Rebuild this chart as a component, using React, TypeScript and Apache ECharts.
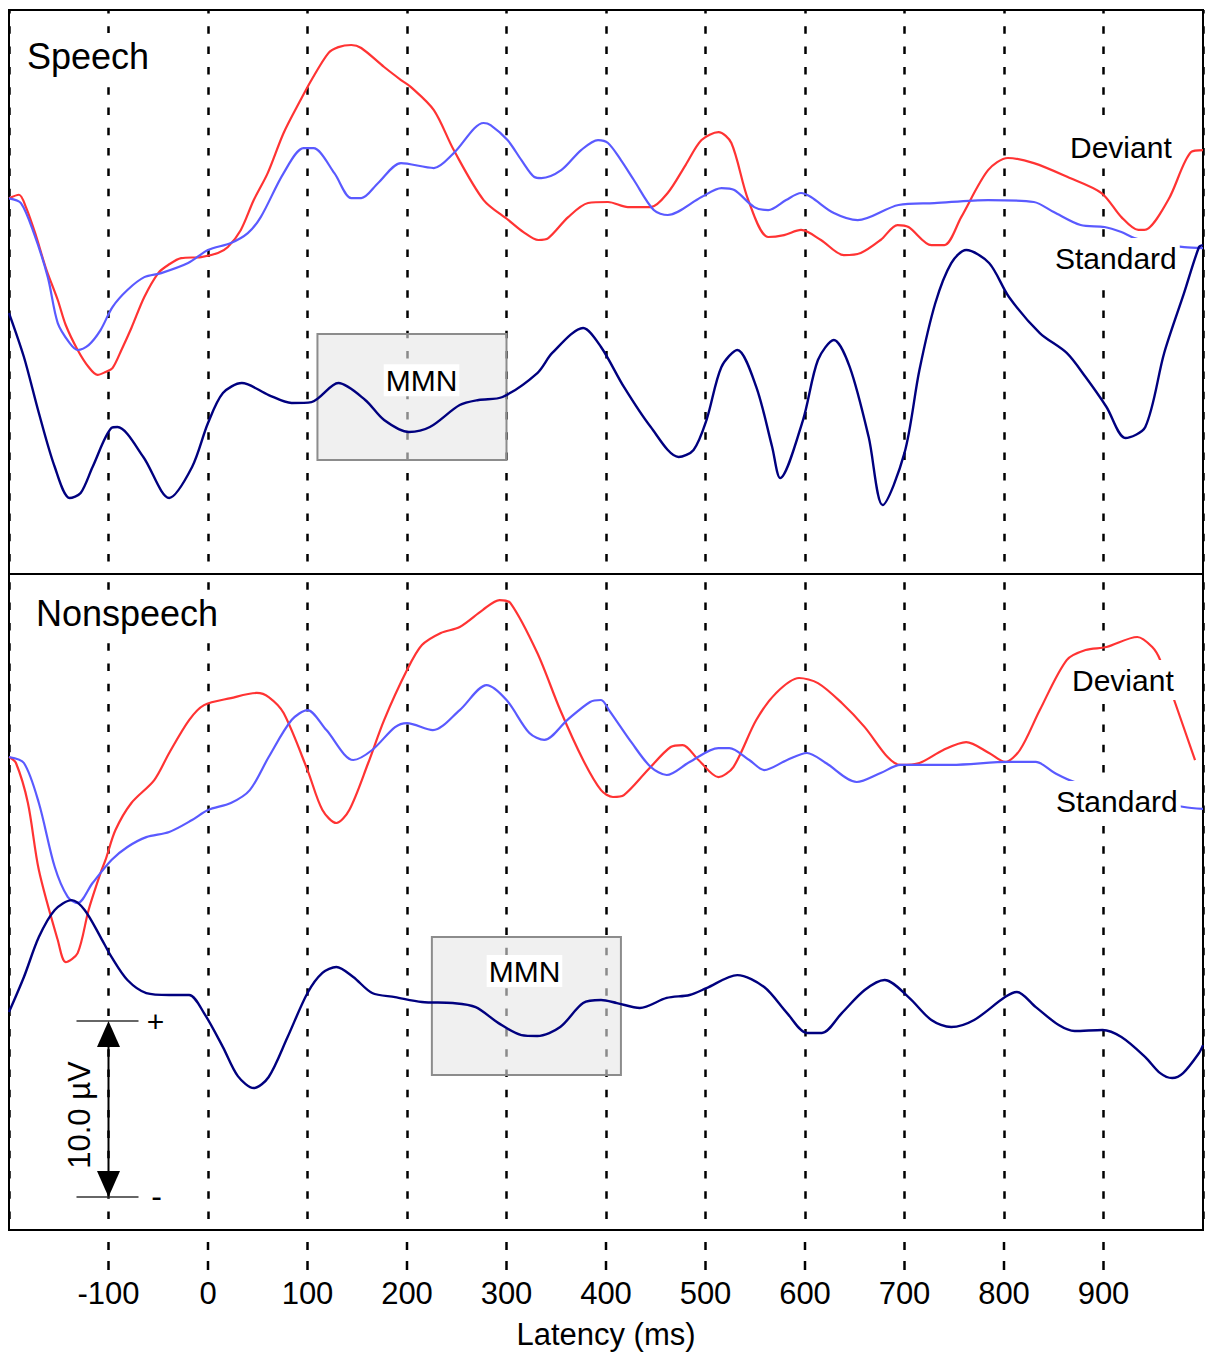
import React, { useEffect, useRef } from "react";
import * as echarts from "echarts";

// Latency (ms) vs amplitude (µV) pairs for each grand-average waveform.
const speechDeviant: number[][] = [
  [-200, 0.1], [-190, 0.3], [-183, -0.4], [-173, -2.0], [-163, -3.86], [-151, -5.68], [-143, -7.1],
  [-131, -8.52], [-120, -9.49], [-111, -9.94], [-103, -9.77], [-96, -9.55], [-87, -8.52], [-77, -7.27],
  [-64, -5.51], [-50, -4.15], [-40, -3.69], [-27, -3.3], [-7, -3.24], [10, -3.01], [20, -2.67], [33, -1.7],
  [46, 0], [60, 1.53], [76, 3.81], [93, 5.68], [104, 6.82], [121, 8.35], [131, 8.69], [144, 8.81],
  [154, 8.64], [177, 7.56], [194, 6.82], [204, 6.42], [227, 5.11], [247, 2.84], [277, 0], [302, -1.14],
  [317, -1.82], [332, -2.27], [342, -2.16], [362, -0.97], [382, -0.17], [402, -0.11], [422, -0.4],
  [445, -0.4], [462, 0.4], [480, 1.99], [496, 3.41], [513, 3.86], [526, 3.24], [543, 0], [563, -2.1],
  [579, -1.99], [596, -1.7], [616, -2.27], [639, -3.13], [656, -3.01], [676, -2.27], [693, -1.42],
  [704, -1.53], [727, -2.56], [740, -2.56], [757, -0.97], [784, 1.7], [804, 2.39], [830, 2.1],
  [864, 1.31], [898, 0.4], [918, -0.97], [935, -1.7], [941, -1.7], [965, 0], [988, 2.73], [1000, 2.84],
];

const speechStandard: number[][] = [
  [-200, 0.1], [-188, -0.17], [-175, -1.88], [-161, -4.38], [-151, -6.99], [-139, -8.13], [-131, -8.52],
  [-120, -8.24], [-108, -7.39], [-96, -6.08], [-81, -5.11], [-64, -4.38], [-47, -4.15], [-20, -3.58],
  [0, -2.84], [23, -2.44], [40, -1.88], [53, -0.97], [76, 1.53], [96, 2.95], [106, 2.95], [127, 1.53],
  [144, 0.11], [154, 0.11], [171, 0.97], [194, 2.1], [227, 1.82], [247, 2.67], [277, 4.38], [284, 4.26],
  [301, 3.41], [315, 2.27], [328, 1.31], [335, 1.25], [355, 1.7], [375, 2.84], [392, 3.41], [402, 3.24],
  [415, 2.27], [428, 1.14], [448, -0.57], [462, -0.85], [496, 0.17], [516, 0.68], [529, 0.57],
  [549, -0.4], [563, -0.57], [581, 0], [596, 0.4], [606, 0.17], [629, -0.74], [653, -1.14], [694, -0.28],
  [730, -0.17], [784, 0], [830, -0.11], [850, -0.68], [877, -1.42], [901, -1.53], [918, -1.82],
  [931, -2.16], [958, -2.5], [981, -2.67], [1000, -2.73],
];

const speechMmn: number[][] = [
  [-200, 0], [-185, -2.5], [-170, -5.68], [-154, -8.75], [-139, -10.51], [-128, -10.23], [-116, -8.75],
  [-97, -6.53], [-91, -6.48], [-65, -8.18], [-39, -10.51], [-16, -8.75], [0, -6.25], [15, -4.55],
  [34, -3.98], [61, -4.66], [84, -5.11], [104, -5.06], [131, -3.98], [158, -4.94], [177, -6.08],
  [202, -6.76], [223, -6.48], [253, -5.23], [272, -4.94], [296, -4.77], [331, -3.41], [346, -2.27],
  [377, -0.85], [395, -1.93], [418, -4.2], [445, -6.48], [473, -8.18], [488, -7.78], [501, -6.08],
  [516, -3.07], [532, -2.1], [551, -4.2], [567, -7.61], [575, -9.38], [598, -6.08], [613, -2.67],
  [629, -1.53], [645, -3.07], [664, -7.05], [678, -10.91], [700, -7.95], [715, -3.24], [731, 0.57],
  [747, 2.84], [762, 3.58], [785, 2.84], [805, 0.91], [836, -1.14], [863, -2.27], [882, -3.64],
  [903, -5.34], [922, -7.1], [942, -6.48], [961, -2.27], [981, 1.14], [996, 3.75], [1000, 3.86],
];

const nonspeechDeviant: number[][] = [
  [-200, 0], [-193, -0.34], [-181, -2.61], [-170, -6.42], [-151, -10.4], [-143, -11.65], [-131, -11.14],
  [-120, -8.69], [-108, -6.59], [-103, -5.85], [-93, -4.15], [-77, -2.61], [-54, -1.31], [-39, 0.23],
  [-19, 2.1], [-4, 2.95], [23, 3.35], [49, 3.64], [61, 3.41], [76, 2.5], [100, -0.74], [115, -3.01],
  [129, -3.75], [142, -3.01], [161, -0.34], [177, 2.1], [200, 4.94], [215, 6.36], [234, 7.05],
  [253, 7.39], [276, 8.35], [293, 8.92], [304, 8.75], [331, 5.91], [354, 2.67], [377, -0.17],
  [395, -1.88], [407, -2.27], [418, -2.16], [442, -0.74], [465, 0.57], [477, 0.68], [493, -0.17],
  [513, -1.14], [528, -0.57], [551, 2.1], [571, 3.64], [594, 4.49], [613, 4.2], [637, 3.07], [660, 1.7],
  [683, 0], [696, -0.45], [715, -0.34], [739, 0.4], [762, 0.85], [785, 0.23], [801, -0.28], [816, 0.4],
  [836, 2.67], [863, 5.51], [882, 6.08], [903, 6.25], [934, 6.82], [949, 6.25], [957, 5.51],
  [971, 3.24], [992, -0.17],
];

const nonspeechStandard: number[][] = [
  [-200, 0], [-185, -0.34], [-170, -2.61], [-154, -6.25], [-141, -7.95], [-131, -8.3], [-116, -7.16],
  [-97, -5.85], [-81, -5.11], [-62, -4.55], [-39, -4.26], [-16, -3.58], [0, -3.01], [23, -2.61],
  [42, -1.88], [61, 0], [84, 2.1], [100, 2.67], [119, 1.53], [146, -0.17], [165, 0.4], [188, 1.7],
  [200, 1.93], [226, 1.53], [253, 2.67], [280, 4.09], [300, 3.24], [323, 1.36], [338, 0.97], [361, 2.1],
  [384, 3.13], [395, 3.24], [403, 2.67], [426, 0.8], [445, -0.57], [461, -1.02], [484, -0.28],
  [513, 0.51], [524, 0.51], [544, -0.17], [559, -0.74], [582, -0.17], [602, 0.23], [621, -0.34],
  [652, -1.42], [676, -0.91], [696, -0.45], [747, -0.45], [805, -0.28], [832, -0.28], [851, -0.91],
  [871, -1.42], [928, -2.16], [981, -2.84], [1000, -2.95],
];

const nonspeechMmn: number[][] = [
  [-200, 0], [-185, 1.99], [-170, 4.26], [-154, 5.8], [-137, 6.36], [-124, 5.8], [-108, 4.26],
  [-97, 3.13], [-81, 1.82], [-62, 1.08], [-39, 0.97], [-19, 0.97], [-4, -0.06], [15, -1.99],
  [30, -3.64], [46, -4.32], [61, -3.69], [80, -1.42], [100, 1.08], [115, 2.22], [129, 2.56],
  [146, 1.99], [165, 1.08], [188, 0.85], [215, 0.57], [246, 0.51], [269, 0.28], [292, -0.63],
  [315, -1.31], [331, -1.36], [354, -0.85], [377, 0.51], [395, 0.68], [411, 0.51], [434, 0.23],
  [461, 0.8], [484, 0.97], [501, 1.36], [532, 2.1], [559, 1.42], [582, -0.06], [602, -1.19],
  [617, -1.19], [637, -0.06], [660, 1.25], [680, 1.82], [704, 0.85], [727, -0.45], [747, -0.85],
  [770, -0.45], [801, 0.85], [813, 1.14], [832, 0.28], [855, -0.74], [871, -1.08], [899, -1.02],
  [918, -1.42], [942, -2.56], [957, -3.47], [969, -3.75], [980, -3.47], [996, -2.33], [1000, -1.88],
];

// Difference waves are drawn below the condition waveforms (µV shift).
const SPEECH_MMN_OFFSET = -6.42;
const NONSPEECH_MMN_OFFSET = -14.49;

// MMN analysis windows: [start ms, end ms], shaded box extent in panel µV.
const speechMmnWindow = [110, 300];
const speechMmnBand = [-7.61, -14.77];
const nonspeechMmnWindow = [225, 415];
const nonspeechMmnBand = [-10.23, -18.07];

const latencyTicks = [-100, 0, 100, 200, 300, 400, 500, 600, 700, 800, 900];

// Calibration bar: latency, upper µV, lower µV
const scaleBar = [[-100, -15, -25]];

// Layout of the two stacked panels
const X_MIN = -200;
const X_MAX = 1000;
const PLOT_LEFT = 9;
const PLOT_WIDTH = 1194;
const UPPER_TOP = 10;
const UPPER_HEIGHT = 564;
const LOWER_TOP = 574;
const LOWER_HEIGHT = 656;

const FONT = '"Liberation Sans", Arial, Helvetica, sans-serif';
const RED = "#ff3333";
const BLUE = "#5a5aff";
const NAVY = "#00007f";
const DASH = [7.5, 12.8];

const shift = (data: number[][], off: number) => data.map(([t, v]) => [t, +(v + off).toFixed(2)]);

const dashed = (offset: number) => ({
  show: true,
  lineStyle: { color: "#000", width: 2.5, type: DASH, dashOffset: offset },
});

const wave = (name: string, data: number[][], color: string, idx: number, width = 2.2) => ({
  name,
  type: "line",
  xAxisIndex: idx,
  yAxisIndex: idx,
  data,
  showSymbol: false,
  symbol: "none",
  smooth: 0.3,
  lineStyle: { color, width },
  itemStyle: { color },
  silent: true,
});

const mmnArea = (win: number[], band: number[], labelPos: string[]) => ({
  silent: true,
  itemStyle: { color: "rgba(230,230,230,0.6)", borderColor: "#8c8c8c", borderWidth: 2, opacity: 1 },
  label: {
    show: true,
    formatter: "MMN",
    position: labelPos,
    align: "center",
    verticalAlign: "middle",
    fontSize: 30,
    fontFamily: FONT,
    color: "#000",
    backgroundColor: "#fff",
    padding: [1, 2],
  },
  data: [[{ xAxis: win[0], yAxis: band[0] }, { xAxis: win[1], yAxis: band[1] }]],
});

const label = (text: string, x: number, y: number, size: number) => ({
  type: "text",
  x,
  y,
  z: 100,
  style: {
    text,
    font: `${size}px ${FONT}`,
    fill: "#000",
    align: "left",
    verticalAlign: "middle",
    backgroundColor: "#fff",
    padding: [5, 3],
  },
});

// Latency guides carried on below the frame: two short dashes under each tick,
// drawn as thin filled rectangles.
function guideTails() {
  const out: any[] = [];
  const bottom = LOWER_TOP + LOWER_HEIGHT;
  latencyTicks.forEach((t) => {
    const x = PLOT_LEFT + ((t - X_MIN) / (X_MAX - X_MIN)) * PLOT_WIDTH;
    [[12, 20], [31, 40]].forEach(([a, b]) => {
      out.push({
        type: "rect",
        z: 100,
        shape: { x: x - 1.25, y: bottom + a, width: 2.5, height: b - a },
        style: { fill: "#000" },
      });
    });
  });
  return out;
}

function renderScaleBar(params: any, api: any) {
  const t = api.value(0);
  const top = api.coord([t, api.value(1)]);
  const bot = api.coord([t, api.value(2)]);
  const x = top[0];
  const span = Math.abs(api.value(1) - api.value(2));
  const head = 26;
  const half = 11.5;
  return {
    type: "group",
    children: [
      { type: "line", shape: { x1: x - 32, y1: top[1], x2: x + 30, y2: top[1] }, style: { stroke: "#333", lineWidth: 1.5 } },
      { type: "line", shape: { x1: x - 32, y1: bot[1], x2: x + 30, y2: bot[1] }, style: { stroke: "#333", lineWidth: 1.5 } },
      { type: "line", shape: { x1: x, y1: top[1] + head - 2, x2: x, y2: bot[1] - head + 2 }, style: { stroke: "#000", lineWidth: 2 } },
      { type: "polygon", shape: { points: [[x, top[1]], [x - half, top[1] + head], [x + half, top[1] + head]] }, style: { fill: "#000" } },
      { type: "polygon", shape: { points: [[x, bot[1]], [x - half, bot[1] - head], [x + half, bot[1] - head]] }, style: { fill: "#000" } },
      { type: "text", x: x + 47, y: top[1], style: { text: "+", font: `30px ${FONT}`, fill: "#000", align: "center", verticalAlign: "middle" } },
      { type: "text", x: x + 48, y: bot[1] - 1, style: { text: "-", font: `32px ${FONT}`, fill: "#000", align: "center", verticalAlign: "middle" } },
      {
        type: "text",
        x: x - 29,
        y: (top[1] + bot[1]) / 2 + 6,
        rotation: Math.PI / 2,
        style: { text: `${span.toFixed(1)} µV`, font: `31px ${FONT}`, fill: "#000", align: "center", verticalAlign: "middle" },
      },
    ],
  };
}

function buildOption() {
  return {
    animation: false,
    backgroundColor: "#fff",
    grid: [
      { left: PLOT_LEFT, top: UPPER_TOP, width: PLOT_WIDTH, height: UPPER_HEIGHT, show: true, borderColor: "#000", borderWidth: 2, backgroundColor: "transparent" },
      { left: PLOT_LEFT, top: LOWER_TOP, width: PLOT_WIDTH, height: LOWER_HEIGHT, show: true, borderColor: "#000", borderWidth: 2, backgroundColor: "transparent" },
    ],
    xAxis: [
      {
        gridIndex: 0,
        type: "value",
        min: X_MIN,
        max: X_MAX,
        interval: 100,
        axisLine: { show: false, onZero: false },
        axisTick: { show: false },
        axisLabel: { show: false },
        splitLine: dashed(3.5),
      },
      {
        gridIndex: 1,
        type: "value",
        min: X_MIN,
        max: X_MAX,
        interval: 100,
        axisLine: { show: false, onZero: false },
        axisTick: { show: false },
        axisLabel: {
          show: true,
          customValues: latencyTicks,
          margin: 63,
          verticalAlign: "middle",
          fontSize: 31,
          fontFamily: FONT,
          color: "#000",
        },
        splitLine: dashed(12.3),
        name: "Latency (ms)",
        nameLocation: "middle",
        nameGap: 104,
        nameTextStyle: { fontSize: 31, fontFamily: FONT, color: "#000", verticalAlign: "middle" },
      },
    ],
    yAxis: [
      { gridIndex: 0, type: "value", min: -21.25, max: 10.8, show: false },
      { gridIndex: 1, type: "value", min: -26.875, max: 10.4, show: false },
    ],
    series: [
      wave("Deviant", speechDeviant, RED, 0),
      wave("Standard", speechStandard, BLUE, 0),
      {
        ...wave("MMN", shift(speechMmn, SPEECH_MMN_OFFSET), NAVY, 0, 2.4),
        markArea: mmnArea(speechMmnWindow, speechMmnBand, ["55%", "37%"]),
      },
      wave("Deviant", nonspeechDeviant, RED, 1),
      wave("Standard", nonspeechStandard, BLUE, 1),
      {
        ...wave("MMN", shift(nonspeechMmn, NONSPEECH_MMN_OFFSET), NAVY, 1, 2.4),
        markArea: mmnArea(nonspeechMmnWindow, nonspeechMmnBand, ["49%", "25%"]),
      },
      {
        type: "custom",
        xAxisIndex: 1,
        yAxisIndex: 1,
        data: scaleBar,
        renderItem: renderScaleBar,
        silent: true,
        clip: false,
        z: 5,
      },
    ],
    graphic: {
      elements: [
        ...guideTails(),
        label("Speech", 24, 56, 36),
        label("Nonspeech", 33, 613, 36),
        label("Deviant", 1067, 147, 30),
        label("Standard", 1052, 258, 30),
        label("Deviant", 1069, 680, 30),
        label("Standard", 1053, 801, 30),
      ],
    },
  };
}

export default function App() {
  const ref = useRef<HTMLDivElement>(null);
  useEffect(() => {
    document.body.style.margin = "0";
    if (!ref.current) return;
    const chart = echarts.init(ref.current, null, { renderer: "svg" });
    chart.setOption(buildOption() as any);
    return () => chart.dispose();
  }, []);
  return <div ref={ref} style={{ width: 1209, height: 1353 }} />;
}
